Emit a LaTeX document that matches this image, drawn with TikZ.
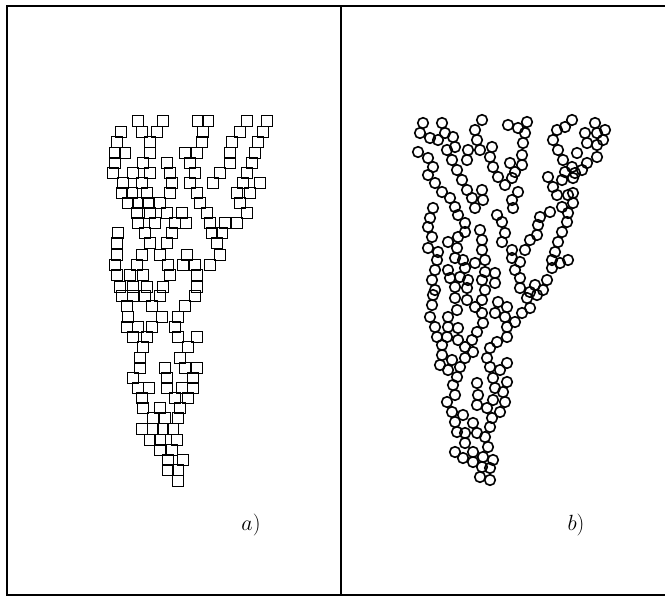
\RequirePackage{fix-cm}
\documentclass[tikz,border=0pt]{standalone}
\begin{document}
\begin{tikzpicture}[x=1pt,y=-1pt,
  frame/.style={line width=1.2pt},
  sq/.style={line width=1.6pt},
  ci/.style={line width=1.6pt},
  lab/.style={font=\fontsize{22}{26}\selectfont, inner sep=0pt}]
\useasboundingbox (0,0) rectangle (665,597);
\draw[frame] (665,6) -- (7,6) -- (7,595) -- (665,595);
\draw[frame] (341,6) -- (341,595);
% squares (cluster a)
\foreach \y/\xs in {121/{138,163,198,208,247,267},
  132/{121,142,157,203,240,263},
  142/{117,150,202,232,258},
  153/{115,125,150,185,197,230,255},
  163/{115,143,167,190,230,252},
  173/{113,133,150,170,195,220,247},
  183/{123,142,172,190,213,243,260},
  193/{122,132,147,170,197,237,250},
  203/{128,138,148,160,200,240},
  213/{137,150,167,182,207,247},
  223/{138,155,175,186,210,225,237},
  233/{118,145,172,212,222},
  243/{117,150,167,217},
  255/{117,142,160,187,220},
  265/{115,137,168,183,195,210},
  275/{117,130,143,170,197},
  287/{120,133,147,163,197},
  296/{122,133,145,160,195},
  306/{127,152,185},
  317/{128,162,178},
  327/{127,138,152,175},
  337/{133,147,178,197},
  347/{143,188},
  358/{140,180},
  368/{140,165,185,197},
  378/{133,167,193},
  388/{138,149,167,182,193},
  398/{142,175,188},
  408/{143,160,180},
  418/{153,165,178},
  429/{142,153,163,173},
  440/{150,160,177},
  450/{160,172},
  460/{168,183},
  470/{168,178},
  481/{178}}
  \foreach \x in \xs
    \draw[sq] (\x-5.5,\y-5.5) rectangle ++(11,11);
% circles (cluster b)
\foreach \x/\y in {423/123,442/123,482/120,508/125,518/128,527/122,572/120,595/123,
  420/133,430/138,445/133,453/137,475/130,525/133,557/130,565/127,585/133,597/133,605/130,
  438/140,455/147,477/140,523/143,553/140,587/143,597/145,603/140,
  418/152,428/158,447/150,468/150,480/150,492/147,522/155,558/150,597/157,577/153,
  433/167,452/160,467/160,490/157,510/163,522/165,563/160,572/167,587/163,
  428/175,457/170,493/167,515/172,565/172,575/173,582/170,
  435/183,462/180,498/177,512/178,548/177,562/180,573/178,
  442/192,467/190,482/190,505/185,518/192,553/187,573/193,
  450/198,472/198,483/200,512/200,557/195,568/195,573/203,
  433/208,455/207,475/208,497/215,513/208,540/217,550/212,562/207,568/213,
  430/218,458/215,502/222,538/225,567/222,
  428/227,465/223,480/230,505/233,537/235,562/232,
  432/237,448/242,458/237,465/232,482/240,502/242,530/240,558/242,
  428/248,438/252,457/248,482/250,512/250,525/250,555/252,
  437/260,455/258,463/260,475/263,485/260,512/258,520/262,552/260,560/263,568/260,
  435/270,448/270,465/268,485/272,495/273,515/270,552/268,
  432/280,450/278,460/277,468/280,482/280,495/283,520/278,535/285,547/280,
  435/290,455/287,467/288,485/290,520/288,530/292,543/290,
  433/295,455/298,467/300,482/300,498/302,527/298,537/295,
  432/305,457/310,475/307,482/313,495/313,505/317,507/307,522/313,530/308,
  430/317,448/317,448/327,458/328,483/323,515/322,507/327,
  435/327,437/337,447/337,458/340,477/332,472/340,497/342,507/337,
  442/345,465/347,473/352,490/348,487/358,
  442/355,452/360,465/358,460/367,490/367,500/370,507/363,
  440/365,448/370,457/377,493/378,477/383,507/382,503/392,
  453/385,455/395,478/395,495/388,493/400,505/402,
  447/402,477/405,487/408,500/412,
  452/412,463/415,492/418,455/422,
  457/432,465/433,477/433,473/423,490/427,485/437,
  465/443,488/447,473/452,455/452,
  463/458,473/462,483/457,493/460,482/467,490/468,
  480/477,490/480}
  \draw[ci] (\x,\y) circle (5.3);
\node[lab] (la) at (251,525) {$a)$};
\node[lab] (lb) at (576,525) {$b)$};
\end{tikzpicture}
\end{document}
